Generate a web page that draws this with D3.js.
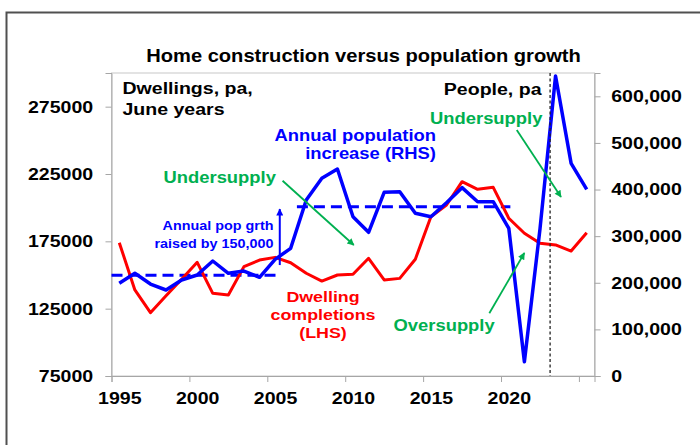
<!DOCTYPE html>
<html>
<head>
<meta charset="utf-8">
<script src="https://cdn.jsdelivr.net/npm/d3@7"></script>
<style>
  body { margin: 0; background: #fff; }
  svg text { font-family: "Liberation Sans", Arial, sans-serif; font-weight: bold; }
</style>
</head>
<body>
<div id="chart"></div>
<script>
// June years, values
const years = [1995, 1996, 1997, 1998, 1999, 2000, 2001, 2002, 2003, 2004,
               2005, 2006, 2007, 2008, 2009, 2010, 2011, 2012, 2013, 2014,
               2015, 2016, 2017, 2018, 2019, 2020, 2021, 2022, 2023, 2024, 2025];
// dwelling completions (LHS)
const dwellings = [174000, 138900, 122000, 134600, 146900, 159400, 136400, 135200, 156200, 161100,
                   163100, 159100, 151300, 145500, 150000, 150500, 162400, 146300, 147500, 161700,
                   193300, 202000, 219300, 213600, 215100, 192100, 181000, 173500, 172300, 167800, 181400];
// annual population increase (RHS)
const population = [198800, 220300, 197300, 184500, 205900, 216600, 246700, 220300, 225200, 211700,
                    250300, 273900, 377500, 424100, 444000, 341700, 308200, 394000, 395300, 349000,
                    341700, 371700, 404000, 373900, 373900, 316800, 30700, 315000, 643500, 456200, 400400];
// average population growth periods (RHS)
const avgFrom = [1995, 2006.9];
const avgTo = [2005.7, 2020.6];
const avgValue = [216000, 363000];

const leftTicks = [75000, 125000, 175000, 225000, 275000];
const rightTicks = [0, 100000, 200000, 300000, 400000, 500000, 600000];
const xTicks = [1995, 2000, 2005, 2010, 2015, 2020, 2025];
const xLabels = [1995, 2000, 2005, 2010, 2015, 2020];
const cutoffYear = 2023.15;

const W = 700, H = 445;
const MARGIN = { top: 73, left: 111.5, right: 105.5, bottom: 69 };
const SX = 1.15; // the text in the picture is a bit stretched

const svg = d3.select("#chart").append("svg").attr("width", W).attr("height", H);

const x = d3.scaleLinear().domain([1995, 2026]).range([MARGIN.left, W - MARGIN.right]);
const yL = d3.scaleLinear().domain([75000, 300000]).range([H - MARGIN.bottom, MARGIN.top]);
const yR = d3.scaleLinear().domain([0, 650000]).range([H - MARGIN.bottom, MARGIN.top]);

const BLUE = "#0000ff", RED = "#ff0000", GREEN = "#00b050", GREY = "#a6a6a6";

// outer frame
svg.append("path")
  .attr("d", `M6.5,${H} V12.5 H${W}`)
  .attr("fill", "none").attr("stroke", "#505050").attr("stroke-width", 2);

// plot frame
svg.append("rect")
  .attr("x", MARGIN.left).attr("y", MARGIN.top)
  .attr("width", W - MARGIN.right - MARGIN.left)
  .attr("height", H - MARGIN.bottom - MARGIN.top)
  .attr("fill", "none").attr("stroke", "#c8c8c8");

function styleAxis(g, size) {
  g.select(".domain").attr("stroke", GREY);
  g.selectAll(".tick line").attr("stroke", GREY);
  g.selectAll(".tick text")
    .attr("fill", "#000")
    .style("font-size", size + "px")
    .attr("transform", `scale(${SX},1)`);
}

// left axis
const gL = svg.append("g").attr("transform", `translate(${MARGIN.left},0)`)
  .call(d3.axisLeft(yL).tickValues(leftTicks).tickSize(6).tickPadding(10).tickFormat(d3.format("d")));
styleAxis(gL, 17);

// right axis
const gR = svg.append("g").attr("transform", `translate(${W - MARGIN.right},0)`)
  .call(d3.axisRight(yR).tickValues(rightTicks).tickSize(6).tickPadding(8.5).tickFormat(d3.format(",")));
styleAxis(gR, 17);

// bottom axis: ticks on the year, labels at mid year
const gB = svg.append("g").attr("transform", `translate(0,${H - MARGIN.bottom})`)
  .call(d3.axisBottom(x).tickValues(xTicks).tickSize(6).tickFormat(""));
styleAxis(gB, 17);
const gB2 = svg.append("g").attr("transform", `translate(${x(1995.5) - x(1995)},${H - MARGIN.bottom})`)
  .call(d3.axisBottom(x).tickValues(xLabels).tickSize(0).tickPadding(16).tickFormat(d3.format("d")));
gB2.select(".domain").remove();
styleAxis(gB2, 17);

// markers
const defs = svg.append("defs");
function marker(id, color, w, h) {
  defs.append("marker").attr("id", id)
    .attr("viewBox", "0 0 10 10").attr("refX", 9).attr("refY", 5)
    .attr("markerUnits", "userSpaceOnUse")
    .attr("markerWidth", w).attr("markerHeight", h).attr("orient", "auto")
    .append("path").attr("d", "M0,0 L10,5 L0,10 z").attr("fill", color);
}
marker("headG", GREEN, 9, 7);
marker("headB", BLUE, 8, 7);

// dashed averages
svg.append("g").selectAll("line")
  .data(avgValue)
  .join("line")
  .attr("x1", (d, i) => x(avgFrom[i]))
  .attr("x2", (d, i) => x(avgTo[i]))
  .attr("y1", d => yR(d)).attr("y2", d => yR(d))
  .attr("stroke", BLUE).attr("stroke-width", 3).attr("stroke-dasharray", "11,6");

// lines
const pts = years.map((yr, i) => ({ t: yr + 0.5, d: dwellings[i], p: population[i] }));

svg.append("path").datum(pts)
  .attr("fill", "none").attr("stroke", RED).attr("stroke-width", 3).attr("stroke-linejoin", "round")
  .attr("d", d3.line().x(d => x(d.t)).y(d => yL(d.d)));

svg.append("path").datum(pts)
  .attr("fill", "none").attr("stroke", BLUE).attr("stroke-width", 3.5).attr("stroke-linejoin", "round")
  .attr("d", d3.line().x(d => x(d.t)).y(d => yR(d.p)));

// dotted vertical line
svg.append("line")
  .attr("x1", x(cutoffYear)).attr("x2", x(cutoffYear))
  .attr("y1", MARGIN.top).attr("y2", H - MARGIN.bottom)
  .attr("stroke", "#222").attr("stroke-width", 1.3).attr("stroke-dasharray", "3,2.5");

// annotation arrows (year, RHS value)
const arrows = [
  { from: [2005.98, 418900], to: [2010.55, 281000], color: GREEN, m: "headG", w: 1.8 },
  { from: [2021.01, 527700], to: [2023.85, 384000], color: GREEN, m: "headG", w: 1.8 },
  { from: [2019.25, 134500], to: [2021.5, 264000], color: GREEN, m: "headG", w: 1.8 },
  { from: [2005.8, 238000], to: [2005.8, 358000], color: BLUE, m: "headB", w: 2 }
];
svg.append("g").selectAll("line")
  .data(arrows)
  .join("line")
  .attr("x1", d => x(d.from[0])).attr("y1", d => yR(d.from[1]))
  .attr("x2", d => x(d.to[0])).attr("y2", d => yR(d.to[1]))
  .attr("stroke", d => d.color).attr("stroke-width", d => d.w)
  .attr("marker-end", d => `url(#${d.m})`);

// texts
const texts = [
  { s: "Home construction versus population growth", x: 363.5, y: 62, a: "middle", size: 17.5, c: "#000" },
  { s: "Dwellings, pa,", x: 122.5, y: 93.5, a: "start", size: 17, c: "#000" },
  { s: "June years", x: 122.5, y: 114.5, a: "start", size: 17, c: "#000" },
  { s: "People, pa", x: 541.5, y: 94.5, a: "end", size: 17, c: "#000" },
  { s: "Annual population", x: 436, y: 140.5, a: "end", size: 16, c: BLUE },
  { s: "increase (RHS)", x: 436, y: 158.5, a: "end", size: 16, c: BLUE },
  { s: "Undersupply", x: 163.5, y: 182.5, a: "start", size: 16, c: GREEN },
  { s: "Undersupply", x: 430, y: 123.5, a: "start", size: 16, c: GREEN },
  { s: "Annual pop grth", x: 273.5, y: 229.5, a: "end", size: 12.5, c: BLUE },
  { s: "raised by 150,000", x: 273.5, y: 247.5, a: "end", size: 12.5, c: BLUE },
  { s: "Dwelling", x: 323, y: 301.5, a: "middle", size: 15.5, c: RED },
  { s: "completions", x: 323, y: 320, a: "middle", size: 15.5, c: RED },
  { s: "(LHS)", x: 323, y: 338, a: "middle", size: 15.5, c: RED },
  { s: "Oversupply", x: 393.5, y: 330.5, a: "start", size: 16, c: GREEN }
];
svg.append("g").selectAll("text")
  .data(texts)
  .join("text")
  .attr("transform", d => `translate(${d.x},${d.y}) scale(${SX},1)`)
  .attr("text-anchor", d => d.a)
  .attr("fill", d => d.c)
  .style("font-size", d => d.size + "px")
  .text(d => d.s);
</script>
</body>
</html>
